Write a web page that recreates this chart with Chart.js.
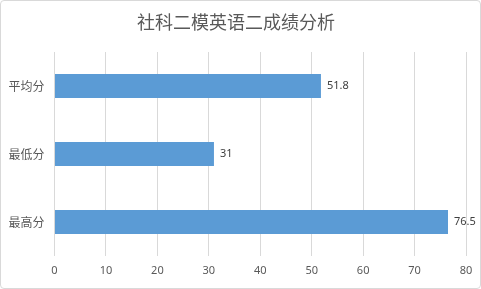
<!DOCTYPE html>
<html><head><meta charset="utf-8">
<script src="https://cdn.jsdelivr.net/npm/chart.js@4/dist/chart.umd.min.js"></script>
<style>
html,body{margin:0;padding:0;background:#fff;}
#wrap{position:relative;width:481px;height:289px;box-sizing:border-box;border:1px solid #d9d9d9;border-radius:4px;overflow:hidden;}
canvas{position:absolute;left:-1px;top:-1px;}
</style></head>
<body>
<div id="wrap"><canvas id="c" width="481" height="289"></canvas></div>
<script>
const titleText = '社科二模英语二成绩分析';
const categories = ['平均分', '最低分', '最高分'];
const values = [51.8, 31, 76.5];
const xTicks = [0, 10, 20, 30, 40, 50, 60, 70, 80];

const labelPlugin = {
  id: 'vlabels',
  afterDatasetsDraw(chart) {
    const ctx = chart.ctx;
    const meta = chart.getDatasetMeta(0);
    ctx.save();
    ctx.font = '11px "Noto Sans", "DejaVu Sans", sans-serif';
    ctx.fillStyle = '#404040';
    ctx.textAlign = 'left';
    ctx.textBaseline = 'middle';
    meta.data.forEach((bar, i) => {
      ctx.fillText(String(values[i]), bar.x + 6, bar.y);
    });
    ctx.restore();
  }
};

new Chart(document.getElementById('c'), {
  type: 'bar',
  data: {
    labels: categories,
    datasets: [{
      data: values,
      backgroundColor: '#5b9bd5',
      borderWidth: 0,
      barPercentage: 0.7,
      categoryPercentage: 0.5
    }]
  },
  options: {
    indexAxis: 'y',
    responsive: false,
    animation: false,
    devicePixelRatio: 1,
    layout: { padding: { left: 6, right: 15, top: 0, bottom: 10 } },
    plugins: {
      legend: { display: false },
      tooltip: { enabled: false },
      title: {
        display: true,
        text: titleText,
        color: '#595959',
        font: { size: 18, weight: 'normal', family: '"Noto Sans CJK SC", sans-serif' },
        padding: { top: 11, bottom: 19.4 }
      }
    },
    scales: {
      x: {
        min: 0, max: 80,
        afterBuildTicks(s) { s.ticks = xTicks.map(v => ({ value: v })); },
        afterFit(s) { s.height = 23; },
        grid: { color: '#d9d9d9', drawTicks: false },
        border: { display: false },
        ticks: { color: '#595959', padding: 8, font: { size: 11, family: '"Noto Sans", sans-serif' } }
      },
      y: {
        afterFit(s) { s.width = 48.5; },
        grid: { display: false, drawTicks: false },
        border: { display: false },
        ticks: { color: '#595959', padding: 10, font: { size: 12, family: '"Noto Sans CJK SC", sans-serif' } }
      }
    }
  },
  plugins: [labelPlugin]
});
</script>
</body></html>
